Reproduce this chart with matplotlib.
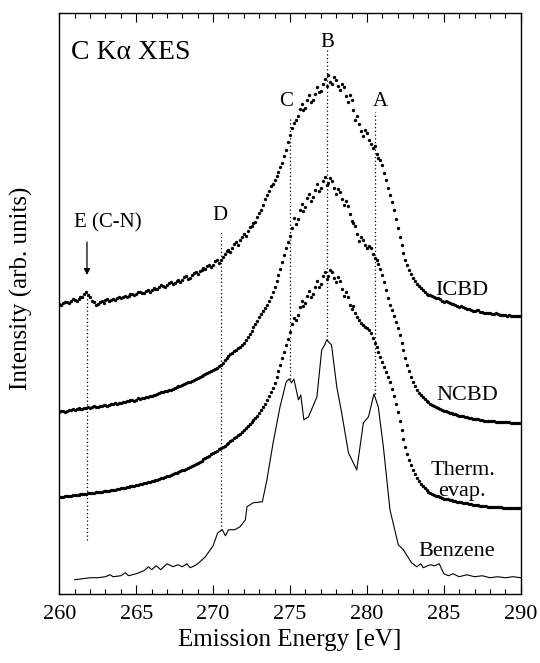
import matplotlib
matplotlib.use("Agg")
import matplotlib.pyplot as plt
import numpy as np

plt.rcParams['font.family'] = ['Liberation Serif', 'DejaVu Serif']

# emission energy grid of the measured spectra [eV]
energy = np.arange(260.0, 290.001, 0.125)

# intensities (arb. units, offsets included), 2 eV per row
icbd = [290, 289, 291, 292, 292, 291, 293, 295, 294, 293, 295, 297, 297, 300, 302, 299,
        297, 293, 292, 289, 290, 292, 293, 291, 294, 295, 293, 294, 295, 294, 296, 297,
        296, 297, 298, 297, 298, 300, 300, 299, 300, 302, 302, 301, 301, 303, 304, 302,
        304, 306, 305, 305, 307, 309, 308, 307, 309, 311, 312, 310, 311, 313, 314, 312,
        314, 317, 318, 315, 316, 319, 321, 322, 320, 323, 324, 326, 325, 328, 329, 327,
        329, 333, 334, 331, 334, 337, 340, 343, 344, 342, 346, 350, 352, 349, 354, 357,
        360, 358, 363, 367, 368, 371, 372, 377, 381, 384, 389, 395, 399, 403, 408, 410,
        414, 418, 422, 427, 431, 438, 444, 452, 459, 466, 471, 474, 478, 485, 490, 484,
        486, 494, 499, 492, 494, 500, 507, 502, 503, 510, 515, 508, 519, 512, 510, 517,
        514, 508, 504, 510, 507, 498, 492, 499, 494, 484, 474, 478, 470, 463, 458, 464,
        461, 454, 450, 446, 448, 440, 436, 434, 429, 421, 414, 406, 399, 392, 384, 375,
        366, 357, 349, 341, 334, 329, 324, 320, 316, 313, 310, 308, 306, 304, 302, 300,
        299, 299, 298, 297, 296, 296, 295, 293, 292, 293, 292, 291, 290, 290, 289, 288,
        287, 288, 287, 286, 285, 285, 284, 283, 283, 284, 284, 282, 282, 281, 281, 281,
        281, 280, 280, 281, 280, 279, 279, 279, 279, 278, 279, 278, 278, 278, 278, 278,
        278]

ncbd = [182, 183, 183, 182, 183, 184, 184, 185, 184, 185, 186, 185, 185, 186, 186, 187,
        186, 187, 188, 187, 187, 188, 188, 189, 189, 188, 189, 190, 190, 191, 190, 191,
        191, 192, 192, 193, 193, 194, 194, 193, 194, 196, 195, 196, 196, 197, 197, 198,
        198, 199, 199, 200, 201, 202, 202, 203, 203, 204, 204, 205, 206, 207, 208, 208,
        209, 210, 211, 212, 212, 213, 214, 215, 216, 217, 218, 219, 220, 221, 222, 223,
        224, 225, 226, 228, 229, 231, 234, 236, 238, 240, 241, 243, 244, 246, 247, 249,
        251, 254, 257, 260, 263, 267, 270, 273, 277, 280, 283, 286, 289, 293, 297, 302,
        307, 313, 319, 325, 332, 339, 346, 352, 358, 366, 376, 370, 375, 384, 390, 383,
        387, 396, 400, 393, 397, 404, 410, 403, 406, 413, 417, 409, 411, 416, 413, 406,
        400, 405, 402, 395, 389, 393, 388, 380, 373, 371, 368, 360, 353, 357, 354, 349,
        346, 348, 346, 340, 336, 334, 330, 325, 319, 312, 304, 296, 289, 284, 278, 272,
        266, 259, 251, 244, 236, 229, 223, 217, 212, 208, 204, 201, 199, 197, 195, 193,
        192, 190, 189, 188, 187, 186, 185, 184, 183, 183, 182, 181, 181, 180, 180, 179,
        178, 178, 178, 177, 177, 176, 176, 175, 175, 175, 175, 174, 174, 173, 173, 173,
        173, 173, 173, 172, 172, 172, 172, 172, 172, 172, 172, 171, 171, 171, 171, 171,
        171]

therm = [97, 97, 97, 98, 98, 98, 98, 99, 99, 99, 99, 100, 100, 100, 100, 101,
         101, 101, 101, 102, 102, 102, 102, 103, 103, 103, 103, 104, 104, 104, 105, 105,
         106, 106, 106, 107, 107, 108, 108, 108, 109, 109, 110, 110, 111, 111, 112, 112,
         113, 113, 114, 114, 115, 116, 116, 117, 118, 118, 119, 120, 121, 121, 122, 123,
         124, 124, 125, 126, 127, 128, 129, 130, 131, 132, 133, 135, 136, 137, 138, 140,
         141, 142, 143, 145, 146, 147, 148, 150, 151, 153, 154, 156, 157, 159, 160, 162,
         164, 166, 168, 170, 172, 174, 176, 178, 181, 184, 187, 190, 194, 198, 202, 206,
         211, 217, 223, 229, 236, 242, 249, 255, 262, 270, 276, 274, 279, 287, 293, 288,
         291, 298, 303, 297, 300, 307, 313, 307, 310, 318, 322, 315, 318, 324, 322, 316,
         312, 317, 313, 305, 298, 302, 297, 289, 285, 288, 281, 277, 274, 271, 269, 267,
         266, 264, 261, 256, 251, 247, 242, 237, 232, 227, 222, 217, 212, 205, 198, 190,
         182, 173, 164, 155, 147, 140, 134, 129, 124, 120, 116, 113, 110, 108, 106, 104,
         102, 101, 100, 99, 98, 98, 97, 96, 95, 95, 95, 94, 94, 93, 93, 92,
         92, 92, 91, 91, 91, 90, 90, 89, 89, 89, 89, 88, 88, 88, 88, 87,
         87, 87, 87, 87, 87, 87, 87, 86, 86, 86, 86, 86, 86, 86, 86, 86,
         86]

# benzene reference spectrum (gas phase)
benz_e = [261.0, 261.5, 262.0, 262.5, 263.0, 263.3, 263.5, 264.0, 264.3, 264.5,
          265.0, 265.5, 265.8, 266.0, 266.3, 266.6, 267.0, 267.4, 267.7, 268.0,
          268.3, 268.5, 268.8, 269.0, 269.5, 270.0, 270.3, 270.6, 270.8, 271.0,
          271.4, 271.75, 272.1, 272.2, 272.6, 273.2, 273.5, 273.9, 274.35, 274.75,
          274.95, 275.1, 275.25, 275.55, 275.7, 275.9, 276.2, 276.75, 277.06, 277.25,
          277.39, 277.7, 278.04, 278.36, 278.8, 279.34, 279.77, 280.1, 280.46, 280.74,
          281.07, 281.5, 282.04, 282.37, 282.9, 283.24, 283.5, 283.67, 284.1, 284.4,
          284.7, 285.0, 285.3, 285.6, 286.0, 286.5, 287.0, 287.5, 288.0, 288.5,
          289.0, 289.5, 290.0]
benz_i = [14, 15, 16, 16, 17, 19, 17, 18, 21, 18,
          20, 23, 27, 24, 28, 24, 30, 27, 29, 27,
          30, 26, 28, 30, 37, 48, 61, 64, 58, 64,
          64, 67, 74, 87, 91, 92, 114, 151, 187, 212,
          215, 211, 215, 194, 199, 174, 177, 197, 244, 249,
          254, 249, 207, 181, 141, 124, 171, 177, 200, 187,
          147, 84, 49, 44, 31, 27, 30, 26, 29, 28,
          30, 20, 18, 20, 17, 19, 17, 18, 16, 17,
          16, 17, 16]

# feature markers: energy, top, bottom
feat_e = [280.53, 277.4, 275.0, 270.5, 261.8]
feat_top = [482, 544, 477, 362, 296]
feat_bot = [200, 254, 215, 64, 54]

fig = plt.figure(figsize=(5.4, 6.63), dpi=100)
ax = fig.add_axes([0.1098, 0.1045, 0.8545, 0.8755])

for ys in (icbd, ncbd, therm):
    ax.plot(energy, ys, 'o', color='black', ms=2.4, mec='none')
ax.plot(benz_e, benz_i, '-', color='black', lw=0.8)

for e, t, b in zip(feat_e, feat_top, feat_bot):
    ax.plot([e, e], [b, t], color='black', lw=0.9, ls=(0, (1, 2)))

ax.annotate('', xy=(261.8, 319), xytext=(261.8, 352),
            arrowprops=dict(arrowstyle='-|>', color='black', lw=0.9,
                            mutation_scale=9, shrinkA=0, shrinkB=0))

ax.text(260.74, 535, 'C K\u03b1 XES', fontsize=20, ha='left', va='baseline')
ax.text(277.42, 547, 'B', fontsize=15, ha='center', va='baseline')
ax.text(274.73, 488, 'C', fontsize=15, ha='center', va='baseline')
ax.text(280.85, 488, 'A', fontsize=15, ha='center', va='baseline')
ax.text(270.47, 374, 'D', fontsize=15, ha='center', va='baseline')
ax.text(263.15, 367, 'E (C-N)', fontsize=15, ha='center', va='baseline')
ax.text(286.18, 299, 'ICBD', fontsize=16, ha='center', va='baseline')
ax.text(286.55, 194, 'NCBD', fontsize=16, ha='center', va='baseline')
ax.text(286.25, 119, 'Therm.', fontsize=16, ha='center', va='baseline')
ax.text(286.15, 98, 'evap.', fontsize=16, ha='center', va='baseline')
ax.text(285.84, 38, 'Benzene', fontsize=16, ha='center', va='baseline')

ax.set_xlim(260, 290)
ax.set_ylim(0, 581)
ax.set_xticks(np.arange(260, 291, 5))
ax.set_xticks(np.arange(260, 291, 1), minor=True)
ax.set_yticks([])
ax.tick_params(axis='x', which='both', direction='in', top=True, labelsize=16,
               width=0.8, pad=8)
ax.tick_params(axis='x', which='major', length=6.5)
ax.tick_params(axis='x', which='minor', length=3.6)
for s in ax.spines.values():
    s.set_linewidth(1.0)

ax.set_xlabel('Emission Energy [eV]', fontsize=18, labelpad=4)
ax.set_ylabel('Intensity (arb. units)', fontsize=18)
ax.yaxis.set_label_coords(-0.057, 0.526)

fig.savefig('out.png', dpi=100)
